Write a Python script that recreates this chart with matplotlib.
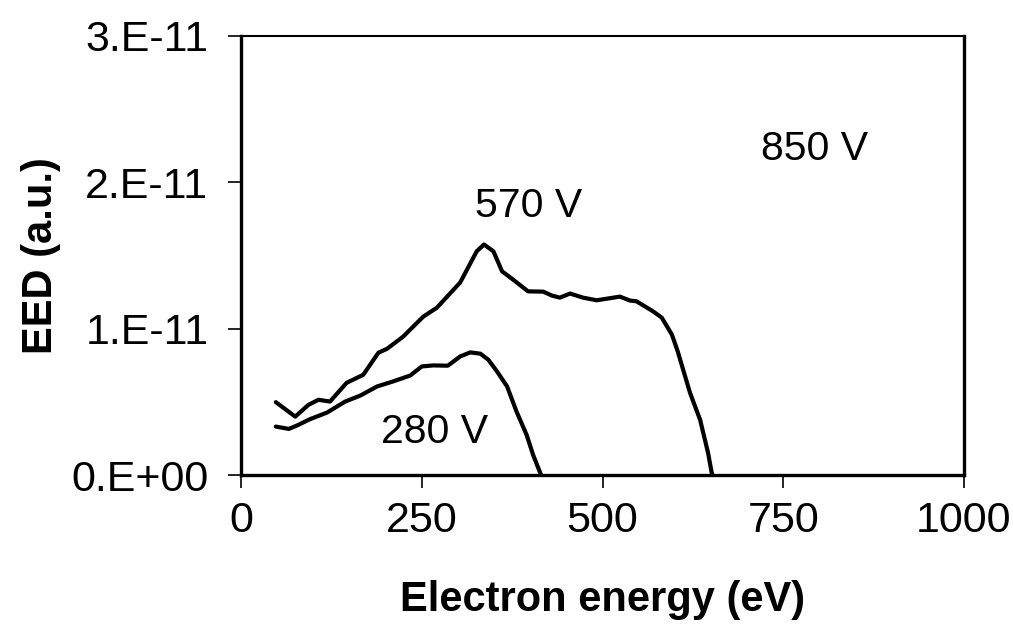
import matplotlib
matplotlib.use("Agg")
import matplotlib.pyplot as plt
from matplotlib.ticker import FixedLocator, FixedFormatter

plt.rcParams['font.family'] = ['Liberation Sans', 'DejaVu Sans']

# Electron energy distributions (energy in eV, EED in a.u.)
energy_570 = [48, 75, 93, 107, 123, 146, 169, 190, 202, 224, 252, 271, 303, 326,
              336, 349, 361, 376, 397, 418, 430, 441, 455, 473, 492, 515, 524,
              538, 547, 570, 582, 596, 604, 621, 635, 646, 651, 652]
eed_570 = [0.498, 0.399, 0.479, 0.514, 0.502, 0.630, 0.685, 0.836, 0.863, 0.945,
           1.082, 1.144, 1.315, 1.529, 1.575, 1.529, 1.392, 1.336, 1.255, 1.253,
           1.226, 1.212, 1.240, 1.212, 1.194, 1.212, 1.219, 1.192, 1.187, 1.118,
           1.075, 0.959, 0.845, 0.562, 0.377, 0.151, 0.016, 0.0]

energy_280 = [48, 66, 79, 95, 119, 144, 165, 188, 210, 234, 250, 266, 286, 303,
              317, 331, 342, 354, 368, 381, 395, 404, 414, 415]
eed_280 = [0.331, 0.315, 0.342, 0.381, 0.427, 0.502, 0.543, 0.605, 0.639, 0.680,
           0.742, 0.749, 0.747, 0.810, 0.838, 0.829, 0.788, 0.708, 0.605, 0.434,
           0.274, 0.137, 0.012, 0.0]

eed_scale = 1e-11

x_ticks = [0, 250, 500, 750, 1000]
y_ticks = [0, 1e-11, 2e-11, 3e-11]
y_tick_labels = ["0.E+00", "1.E-11", "2.E-11", "3.E-11"]

labels = ["570 V", "280 V", "850 V"]
label_pos = [(398, 1.84e-11), (268, 0.295e-11), (794, 2.23e-11)]

fig = plt.figure(figsize=(10.13, 6.28), dpi=100)
ax = fig.add_axes([0.238, 0.2436, 0.7136, 0.6991])

ax.plot(energy_570, [v * eed_scale for v in eed_570], color="black", lw=3,
        solid_capstyle="round", solid_joinstyle="round")
ax.plot(energy_280, [v * eed_scale for v in eed_280], color="black", lw=3,
        solid_capstyle="round", solid_joinstyle="round")

for text, (x, y) in zip(labels, label_pos):
    ax.text(x, y, text, fontsize=29.5, ha="center", va="center")

ax.set_xlim(0, 1000)
ax.set_ylim(0, 3e-11)
ax.xaxis.set_major_locator(FixedLocator(x_ticks))
ax.xaxis.set_major_formatter(FixedFormatter([str(t) for t in x_ticks]))
ax.yaxis.set_major_locator(FixedLocator(y_ticks))
ax.yaxis.set_major_formatter(FixedFormatter(y_tick_labels))

for side in ["left", "bottom", "right"]:
    ax.spines[side].set_linewidth(2.4)
ax.spines["top"].set_linewidth(1.5)

ax.tick_params(axis="both", direction="out", length=9.5, width=1.2,
               labelsize=31)
ax.tick_params(axis="y", pad=14)
ax.tick_params(axis="x", pad=9)

ax.set_xlabel("Electron energy (eV)", fontsize=30, fontweight="bold", labelpad=28)
ax.set_ylabel("EED (a.u.)", fontsize=30, fontweight="bold", labelpad=7)

fig.savefig("out.png", dpi=100, facecolor="white")
